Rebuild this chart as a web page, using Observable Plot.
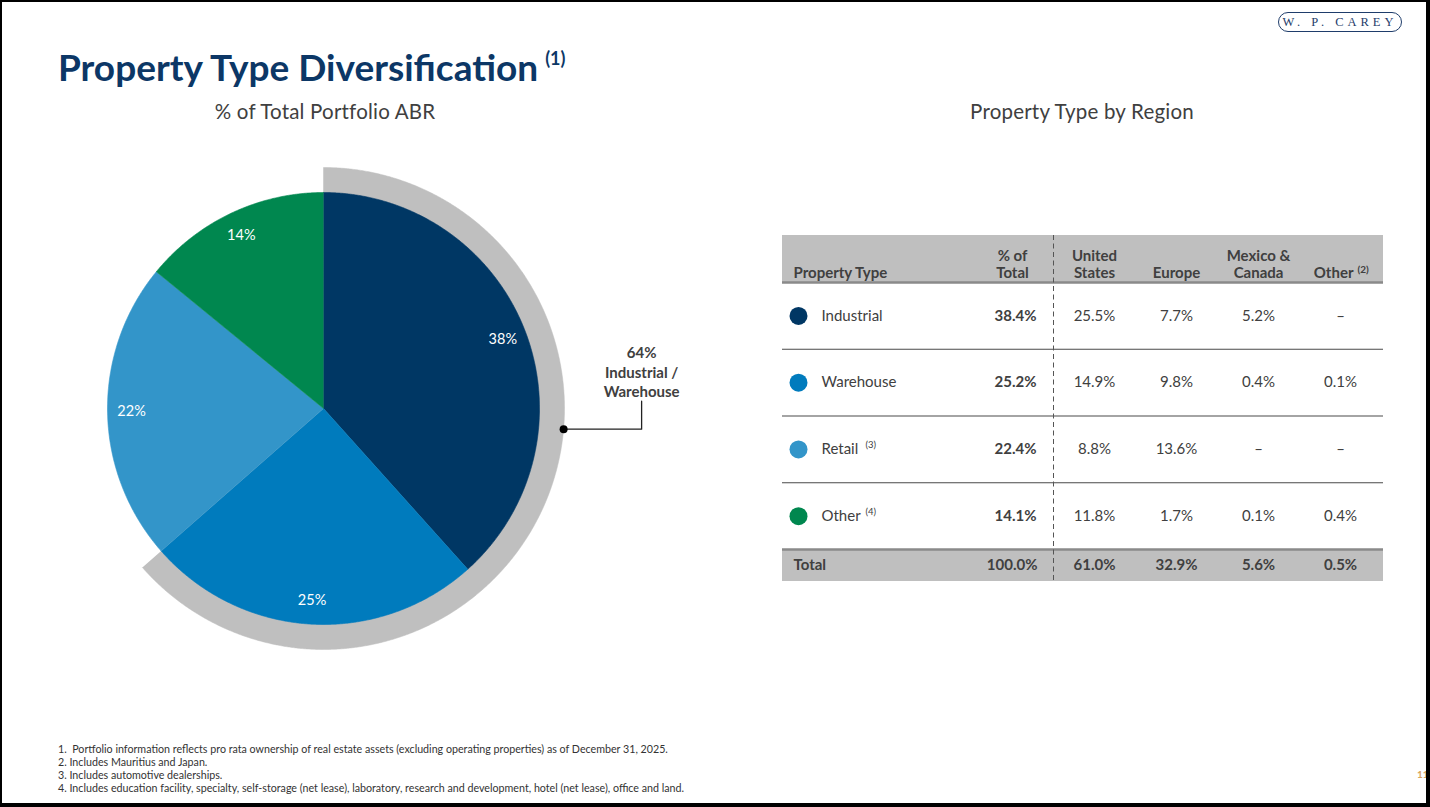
<!DOCTYPE html>
<html><head><meta charset="utf-8">
<script src="https://cdn.jsdelivr.net/npm/d3@7"></script>
<script src="https://cdn.jsdelivr.net/npm/@observablehq/plot@0.6"></script>
<style>
html,body{margin:0;padding:0;background:#fff;}
#page{position:absolute;left:0;top:0;width:1430px;height:807px;background:#fff;overflow:hidden;font-family:Lato,"Open Sans",sans-serif;}
#frame{position:absolute;left:0;top:0;width:1430px;height:807px;box-sizing:border-box;border-style:solid;border-color:#000;border-width:2px 4px 4px 2px;pointer-events:none;}
.abs{position:absolute;white-space:nowrap;}
#title{left:58px;top:44px;font-size:37px;font-weight:bold;color:#0c3766;letter-spacing:0px;}
#title sup{font-size:18px;position:relative;top:-3px;margin-left:7px;}
.sub{font-size:20.5px;color:#404040;top:99px;transform:translateX(-50%);letter-spacing:0.2px;}
#logo{left:1278px;top:12px;width:122px;height:18px;border:1.5px solid #1f3d6b;border-radius:11px;color:#1f3d6b;font-family:"Liberation Serif","DejaVu Serif",serif;font-size:12.5px;letter-spacing:4px;text-align:center;line-height:18px;}
#notes{left:58px;top:742px;font-size:10.7px;color:#333;line-height:13px;}
#pagenum{left:1417px;top:768px;font-size:10px;color:#d8a460;font-weight:bold;}
#pie{position:absolute;left:0;top:130px;}
#table{position:absolute;left:782px;top:235px;}
</style></head><body>
<div id="page">
  <div id="logo" class="abs">W. P. CAREY</div>
  <div id="title" class="abs">Property Type Diversification<sup>(1)</sup></div>
  <div class="abs sub" style="left:325px">% of Total Portfolio ABR</div>
  <div class="abs sub" style="left:1082px">Property Type by Region</div>
  <div id="pie"></div>
  <div id="table"></div>
  <div id="notes" class="abs">
    1.&nbsp; Portfolio information reflects pro rata ownership of real estate assets (excluding operating properties) as of December 31, 2025.<br>
    2. Includes Mauritius and Japan.<br>
    3. Includes automotive dealerships.<br>
    4. Includes education facility, specialty, self-storage (net lease), laboratory, research and development, hotel (net lease), office and land.
  </div>
  <div id="pagenum" class="abs">11</div>
</div>
<div id="frame"></div>
<script>
// ---- data ----
const types = ["Industrial", "Warehouse", "Retail", "Other"];
const typeNotes = [null, null, "(3)", "(4)"];
const typeColors = ["#003764", "#007bbd", "#3395c9", "#00874f"];
const shareOfTotal = [38.4, 25.2, 22.4, 14.1];
const regions = ["United States", "Europe", "Mexico & Canada", "Other"];
const regionHeaders = ["United\nStates", "Europe", "Mexico &\nCanada", "Other"];
const unitedStates = [25.5, 14.9, 8.8, 11.8];
const europe = [7.7, 9.8, 13.6, 1.7];
const mexicoCanada = [5.2, 0.4, null, 0.1];
const otherRegions = [null, 0.1, null, 0.4];
const totalShare = 100.0;
const regionTotals = [61.0, 32.9, 5.6, 0.5];
const highlighted = ["Industrial", "Warehouse"];
const highlightLabel = "Industrial /\nWarehouse";

const font = "Lato, 'Open Sans', sans-serif";
const ink = "#404040";

// ---- pie ----
const R = 216, RING = 241, LABEL_R = 192;
const arcs = d3.pie().sort(null).value(d => d.value)(types.map((t, i) => ({type: t, value: shareOfTotal[i]})));
function wedge(key, a0, a1, r) {
  const pts = [{key, x: 0, y: 0}];
  const n = Math.max(2, Math.ceil((a1 - a0) / 0.005));
  for (let k = 0; k <= n; k++) {
    const a = a0 + (a1 - a0) * k / n;
    pts.push({key, x: r * Math.sin(a), y: -r * Math.cos(a)});
  }
  return pts;
}
const hiArcs = arcs.filter(a => highlighted.includes(a.data.type));
const ringStart = d3.min(hiArcs, a => a.startAngle), ringEnd = d3.max(hiArcs, a => a.endAngle);
const ringPts = wedge("ring", ringStart, ringEnd, RING);
const slicePts = arcs.flatMap(a => wedge(a.data.type, a.startAngle, a.endAngle, R));
const hiShare = d3.sum(hiArcs, a => a.data.value);
const calloutAngle = ringEnd - (ringEnd - ringStart) * 0.585;
const dotP = {x: RING * Math.sin(calloutAngle), y: -RING * Math.cos(calloutAngle)};
const elbowX = dotP.x + 78;
const calloutLine = [dotP, {x: elbowX, y: dotP.y}, {x: elbowX, y: dotP.y - 28}];

const pieChart = Plot.plot({
  width: 720, height: 560, margin: 0,
  style: {fontFamily: font, background: "transparent"},
  x: {domain: [-323, 397], range: [0, 720], axis: null},
  y: {domain: [-278, 282], range: [0, 560], axis: null},
  color: {domain: types, range: typeColors},
  marks: [
    Plot.line(ringPts, {x: "x", y: "y", fill: "#bfbfbf", stroke: "#bfbfbf", strokeWidth: 0.5}),
    Plot.line(slicePts, {x: "x", y: "y", z: "key", fill: "key", stroke: "key", strokeWidth: 0.6}),
    Plot.text(arcs, {
      x: a => LABEL_R * Math.sin((a.startAngle + a.endAngle) / 2),
      y: a => -LABEL_R * Math.cos((a.startAngle + a.endAngle) / 2),
      text: a => Math.round(a.data.value) + "%", fill: "white", fontSize: 14.5
    }),
    Plot.line(calloutLine, {x: "x", y: "y", stroke: "#222", strokeWidth: 1.3}),
    Plot.dot([dotP], {x: "x", y: "y", r: 4, fill: "#000", stroke: null}),
    Plot.text([Math.round(hiShare) + "%\n" + highlightLabel], {
      x: elbowX, y: dotP.y - 32, text: d => d, lineAnchor: "bottom", lineHeight: 1.3,
      fontSize: 15, fontWeight: "bold", fill: ink
    })
  ]
});
document.getElementById("pie").appendChild(pieChart);

// ---- table ----
const cols = ["% of Total", ...regions];
const cells = types.flatMap((t, i) =>
  [shareOfTotal[i], unitedStates[i], europe[i], mexicoCanada[i], otherRegions[i]].map((v, j) => ({row: i, col: cols[j], value: v})));
const totalCells = [totalShare, ...regionTotals].map((v, j) => ({col: cols[j], value: v}));
const fmt = d => d.value == null ? "–" : d.value.toFixed(1) + "%";
const headerY = -0.07, totalY = 4.24;
const rowY = (d, i) => i + 0.5;
const notes = types.map((t, i) => ({row: i, note: typeNotes[i]})).filter(d => d.note);

const table = Plot.plot({
  width: 601, height: 346, margin: 0,
  style: {fontFamily: font, background: "transparent"},
  x: {type: "band", domain: cols, range: [189, 599], padding: 0, axis: null},
  y: {domain: [-0.704, 4.479], range: [0, 346], axis: null},
  color: {domain: types, range: typeColors},
  marks: [
    Plot.rect([0], {y1: -0.704, y2: 0, fill: "#bfbfbf"}),
    Plot.rect([0], {y1: 4, y2: 4.479, fill: "#bfbfbf"}),
    Plot.ruleY([1, 2, 3], {stroke: "#4a4a4a", strokeWidth: 1.2}),
    Plot.ruleY([0, 4], {stroke: "#8a8a8a", strokeWidth: 2.5}),
    Plot.ruleX([cols[1]], {x: d => d, dx: -41, y1: -0.704, y2: 4.479, stroke: "#555", strokeWidth: 1, strokeDasharray: "5,3.5"}),
    // header
    Plot.text(["Property Type"], {frameAnchor: "left", dx: 11, y: headerY, text: d => d, textAnchor: "start", lineAnchor: "bottom", fontSize: 15, fontWeight: "bold", fill: ink}),
    Plot.text(cols.slice(0, 4), {x: d => d, y: headerY, text: (d, i) => ["% of\nTotal", ...regionHeaders][i], lineAnchor: "bottom", lineHeight: 1.13, fontSize: 15, fontWeight: "bold", fill: ink}),
    Plot.text([cols[4]], {x: d => d, y: headerY, dx: 13, text: () => regionHeaders[3], textAnchor: "end", lineAnchor: "bottom", fontSize: 15, fontWeight: "bold", fill: ink}),
    Plot.text([cols[4]], {x: d => d, y: headerY, dx: 17, dy: -5, text: () => "(2)", textAnchor: "start", lineAnchor: "bottom", fontSize: 10, fontWeight: "bold", fill: ink}),
    // rows
    Plot.dot(types, {frameAnchor: "left", dx: 16, y: rowY, r: 9, fill: d => d, stroke: null}),
    Plot.text(types, {frameAnchor: "left", dx: 39, y: rowY, text: d => d, textAnchor: "start", fontSize: 15, fill: ink}),
    Plot.text(notes, {frameAnchor: "left", dx: 83, dy: -4, y: d => d.row + 0.5, text: "note", textAnchor: "start", fontSize: 9.5, fill: ink}),
    Plot.text(cells.filter(d => d.col === cols[0]), {x: "col", y: d => d.row + 0.5, dx: 24, text: fmt, textAnchor: "end", fontSize: 15, fontWeight: "bold", fill: ink}),
    Plot.text(cells.filter(d => d.col !== cols[0]), {x: "col", y: d => d.row + 0.5, text: fmt, fontSize: 15, fill: ink}),
    // total
    Plot.text(["Total"], {frameAnchor: "left", dx: 11, y: totalY, text: d => d, textAnchor: "start", fontSize: 15, fontWeight: "bold", fill: ink}),
    Plot.text(totalCells.filter(d => d.col === cols[0]), {x: "col", y: totalY, dx: 25, text: fmt, textAnchor: "end", fontSize: 15, fontWeight: "bold", fill: ink}),
    Plot.text(totalCells.filter(d => d.col !== cols[0]), {x: "col", y: totalY, text: fmt, fontSize: 15, fontWeight: "bold", fill: ink})
  ]
});
document.getElementById("table").appendChild(table);
</script>
</body></html>
